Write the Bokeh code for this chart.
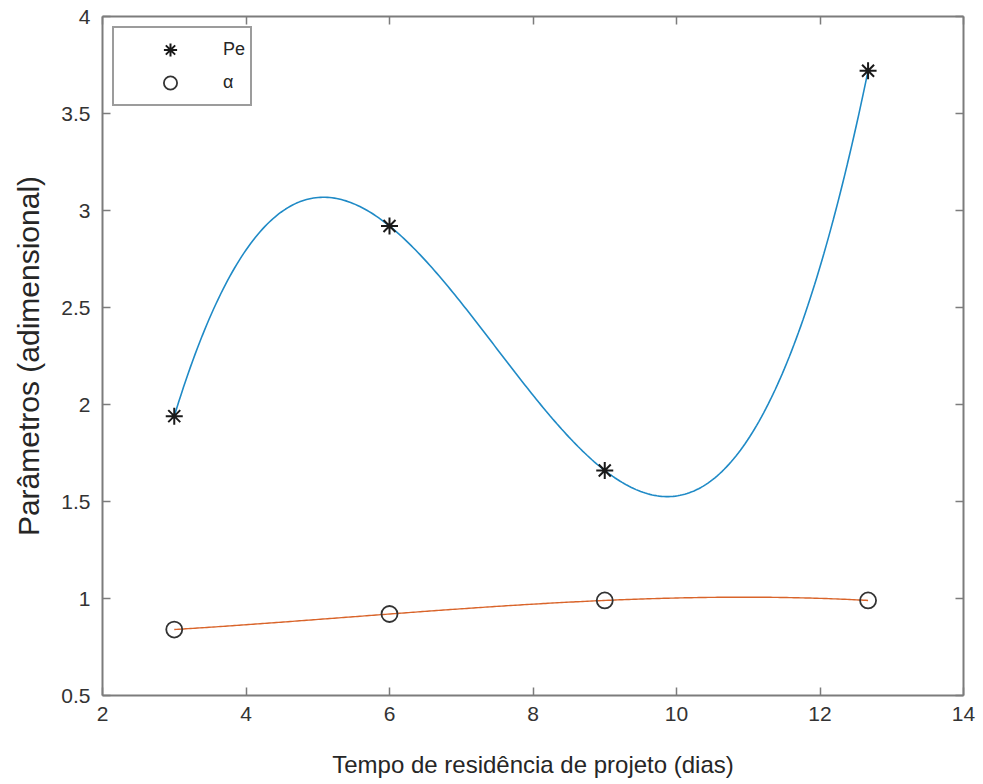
import numpy as np
from bokeh.plotting import figure
from bokeh.models import (LinearAxis, FixedTicker, Range1d, Legend, LegendItem,
                          CustomLabelingPolicy)
from bokeh.embed import file_html
from bokeh.resources import INLINE

# Design residence time (days) and the fitted dimensionless parameters
days = [3, 6, 9, 12.67]
pe_values = [1.94, 2.92, 1.66, 3.72]
alpha_values = [0.84, 0.92, 0.99, 0.99]

x_ticks = [2, 4, 6, 8, 10, 12, 14]
y_ticks = [0.5, 1, 1.5, 2, 2.5, 3, 3.5, 4]
y_tick_labels = ["0.5", "1", "1.5", "2", "2.5", "3", "3.5", "4"]

FONT = "Liberation Sans"
AXIS_GRAY = "#7c7c7c"
TEXT_GRAY = "#333333"

# third-order polynomial trend through each series
t = np.linspace(days[0], days[-1], 300)
pe_fit = np.polyval(np.polyfit(days, pe_values, 3), t)
alpha_fit = np.polyval(np.polyfit(days, alpha_values, 3), t)

p = figure(width=983, height=784, output_backend="svg", toolbar_location=None,
           x_range=Range1d(2, 14), y_range=Range1d(0.5, 4),
           min_border_left=102, min_border_right=20,
           min_border_top=16, min_border_bottom=89)
p.xgrid.visible = False
p.ygrid.visible = False
p.outline_line_color = None
p.background_fill_color = "white"
p.border_fill_color = "white"

p.line(t, pe_fit, line_color="#1f8ac6", line_width=1.6)
p.line(t, alpha_fit, line_color="#d9642a", line_width=1.4)

stars = p.scatter(days, pe_values, marker="asterisk", size=17,
                  line_color="#1a1a1a", line_width=2)
circles = p.scatter(days, alpha_values, marker="circle", size=16,
                    fill_color=None, line_color="#333333", line_width=1.8)

xb = p.xaxis[0]
xb.ticker = FixedTicker(ticks=x_ticks)
yl = p.yaxis[0]
yl.ticker = FixedTicker(ticks=y_ticks)
yl.major_label_overrides = {float(v): s for v, s in zip(y_ticks, y_tick_labels)}

# mirrored tick marks on the top and right edges of the box, without labels
no_labels = CustomLabelingPolicy(code="""
    for (const i of [...indices]) {
        indices.unset(i)
    }
    return indices
""")
xt = LinearAxis(ticker=FixedTicker(ticks=x_ticks), major_label_policy=no_labels)
yr = LinearAxis(ticker=FixedTicker(ticks=y_ticks), major_label_policy=no_labels)
p.add_layout(xt, "above")
p.add_layout(yr, "right")

for ax in (xb, yl, xt, yr):
    ax.axis_line_color = AXIS_GRAY
    ax.axis_line_width = 2
    ax.major_tick_line_color = AXIS_GRAY
    ax.major_tick_line_width = 1.5
    ax.major_tick_in = 8
    ax.major_tick_out = 0
    ax.minor_tick_line_color = None
    ax.major_label_text_font = FONT
    ax.major_label_text_color = TEXT_GRAY
for ax in (xb, yl):
    ax.major_label_text_font_size = "21px"
for ax in (xt, yr):
    ax.major_label_text_font_size = "1px"
    ax.major_label_standoff = 0
xb.major_label_standoff = 11
yl.major_label_standoff = 12

xb.axis_label = "Tempo de residência de projeto (dias)"
yl.axis_label = "Parâmetros (adimensional)"
for ax in (xb, yl):
    ax.axis_label_text_font = FONT
    ax.axis_label_text_font_style = "normal"
    ax.axis_label_text_color = "#262626"
xb.axis_label_text_font_size = "24px"
xb.axis_label_standoff = 27
yl.axis_label_text_font_size = "30px"
yl.axis_label_standoff = 13

legend = Legend(items=[LegendItem(label="Pe", renderers=[stars]),
                       LegendItem(label="α", renderers=[circles])],
                location="top_left", margin=10, padding=5,
                glyph_width=102, glyph_height=33, label_height=33,
                label_standoff=2, spacing=0,
                label_text_font=FONT, label_text_font_size="18px",
                label_text_color="#262626",
                border_line_color="#3a3a3a", border_line_width=2,
                background_fill_color="white", background_fill_alpha=1)
p.add_layout(legend)

open("out.html", "w").write(file_html(p, INLINE))
